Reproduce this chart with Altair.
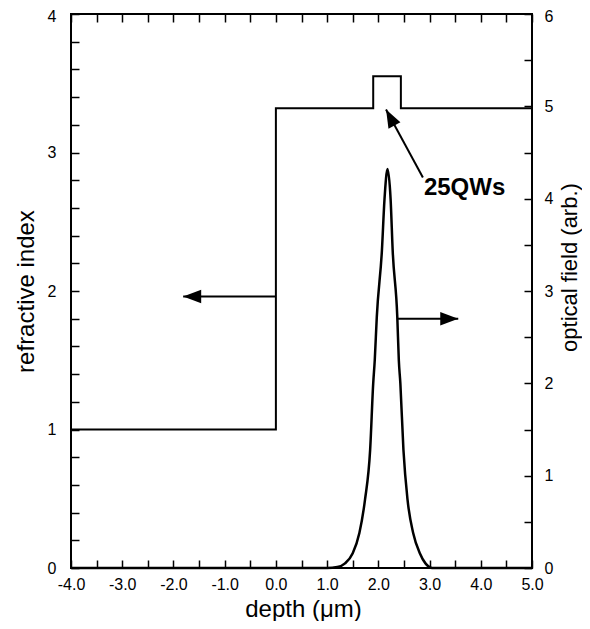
import altair as alt
import pandas as pd

# ---- data ----
ri_depth = [-4.0, 0.0, 1.90, 2.44, 5.0]
ri_value = [1.0, 3.32, 3.55, 3.32, 3.32]

field_depth = [-4.0, 1.0, 1.2, 1.35, 1.5, 1.63, 1.74, 1.84, 1.90, 1.93, 1.97, 2.07, 2.12,
               2.18, 2.24, 2.28, 2.37, 2.40, 2.43, 2.49, 2.57, 2.68, 2.81, 2.92, 3.05, 5.0]
field_value = [0, 0, 0.01, 0.05, 0.16, 0.38, 0.74, 1.28, 2.0, 2.25, 2.72, 3.44, 3.99,
               4.32, 3.99, 3.44, 2.72, 2.25, 2.0, 1.28, 0.74, 0.38, 0.16, 0.05, 0.0, 0]

x_labels = [-4.0, -3.0, -2.0, -1.0, 0.0, 1.0, 2.0, 3.0, 4.0, 5.0]
x_ticks = [-4.0, -3.5, -3.0, -2.5, -2.0, -1.5, -1.0, -0.5, 0.0, 0.5, 1.0, 1.5, 2.0,
           2.5, 3.0, 3.5, 4.0, 4.5, 5.0]
yl_labels = [0, 1, 2, 3, 4]
yl_ticks = [0.0, 0.2, 0.4, 0.6, 0.8, 1.0, 1.2, 1.4, 1.6, 1.8, 2.0, 2.2, 2.4, 2.6, 2.8,
            3.0, 3.2, 3.4, 3.6, 3.8, 4.0]
yr_labels = [0, 1, 2, 3, 4, 5, 6]
yr_ticks = [0.0, 0.5, 1.0, 1.5, 2.0, 2.5, 3.0, 3.5, 4.0, 4.5, 5.0, 5.5, 6.0]

arrow_id = ["left", "left", "right", "right", "qw", "qw"]
arrow_x = [0.0, -1.81, 2.37, 3.56, 2.87, 2.15]
arrow_y = [1.96, 1.96, 1.80, 1.80, 2.82, 3.31]
head_x = [-1.81, 3.56, 2.15]
head_y = [1.96, 1.80, 3.31]
head_angle = [0, 180, 62]

note_text = ["25QWs"]
note_x = [2.89]
note_y = [2.69]

# ---- tables ----
ri_df = pd.DataFrame({"depth": ri_depth, "n": ri_value})
field_df = pd.DataFrame({"depth": field_depth, "field": field_value})
arrow_df = pd.DataFrame({"id": arrow_id, "x": arrow_x, "y": arrow_y})
head_df = pd.DataFrame({"x": head_x, "y": head_y, "angle": head_angle})
note_df = pd.DataFrame({"t": note_text, "x": note_x, "y": note_y})

FONT = "Liberation Sans"


def xs():
    return alt.Scale(domain=[-4, 5], nice=False, zero=False)


def yls():
    return alt.Scale(domain=[0, 4], nice=False, zero=False)


def yrs():
    return alt.Scale(domain=[0, 6], nice=False, zero=False)


# refractive index (left axis, bottom axis labels)
ri = alt.Chart(ri_df).mark_line(interpolate="step-after", color="black", strokeWidth=2).encode(
    x=alt.X("depth:Q", scale=xs(), axis=alt.Axis(
        orient="bottom", values=x_labels, format=".1f",
        labelExpr="replace(datum.label, '\u2212', '-')",
        ticks=False, tickSize=0,
        domain=False, labelPadding=8, labelFlush=False, labelOverlap=False,
        title="depth (μm)", titleX=232, titleY=48, titleBaseline="alphabetic",
        titleAlign="center")),
    y=alt.Y("n:Q", scale=yls(), axis=alt.Axis(
        orient="left", values=yl_labels, format="d", ticks=False, tickSize=0,
        domain=False, labelPadding=15, labelFlush=False, labelOverlap=False,
        labelOffset={"condition": {"test": "datum.value == 4", "value": 2}, "value": 0},
        title="refractive index", titleX=-38, titleY=277, titleAngle=270,
        titleBaseline="alphabetic", titleAlign="center")),
)

# optical field (right axis)
field = alt.Chart(field_df).mark_line(interpolate="monotone", color="black", strokeWidth=2.5).encode(
    x=alt.X("depth:Q", scale=xs(), axis=None),
    y=alt.Y("field:Q", scale=yrs(), axis=alt.Axis(
        orient="right", values=yr_labels, format="d", ticks=False, tickSize=0,
        domain=False, labelPadding=12, labelFlush=False, labelOverlap=False,
        labelOffset={"condition": {"test": "datum.value == 6", "value": 2}, "value": 0},
        title="optical field (arb.)", titleX=44, titleY=253, titleAngle=270,
        titleFontSize=22, titleBaseline="alphabetic", titleAlign="center")),
)

# inward ticks: bottom + left
ticks_bl = alt.Chart(ri_df).mark_point(opacity=0).encode(
    x=alt.X("depth:Q", scale=xs(), axis=alt.Axis(
        orient="bottom", values=x_ticks, labels=False, domain=False, ticks=True,
        tickSize=8, offset=-8, tickWidth=1.5, tickColor="black", title=None)),
    y=alt.Y("n:Q", scale=yls(), axis=alt.Axis(
        orient="left", values=yl_ticks, labels=False, domain=False, ticks=True,
        tickSize=8, offset=-8, tickWidth=1.5, tickColor="black", title=None)),
)

# inward ticks: top + right
ticks_tr = alt.Chart(field_df).mark_point(opacity=0).encode(
    x=alt.X("depth:Q", scale=xs(), axis=alt.Axis(
        orient="top", values=x_ticks, labels=False, domain=False, ticks=True,
        tickSize=8, offset=-8, tickWidth=1.5, tickColor="black", title=None)),
    y=alt.Y("field:Q", scale=yrs(), axis=alt.Axis(
        orient="right", values=yr_ticks, labels=False, domain=False, ticks=True,
        tickSize=8, offset=-8, tickWidth=1.5, tickColor="black", title=None)),
)

arrows = alt.Chart(arrow_df).mark_line(color="black", strokeWidth=2).encode(
    x=alt.X("x:Q", scale=xs(), axis=None),
    y=alt.Y("y:Q", scale=yls(), axis=None),
    detail="id:N",
)

heads = alt.Chart(head_df).mark_point(
    shape="M0,0 L2,-0.75 L2,0.75 Z", filled=True, color="black", opacity=1,
    size=324, strokeWidth=0,
).encode(
    x=alt.X("x:Q", scale=xs(), axis=None),
    y=alt.Y("y:Q", scale=yls(), axis=None),
    angle=alt.Angle("angle:Q", scale=None),
)

note = alt.Chart(note_df).mark_text(
    align="left", baseline="alphabetic", font=FONT, fontSize=24, fontWeight="bold",
    color="black",
).encode(
    x=alt.X("x:Q", scale=xs(), axis=None),
    y=alt.Y("y:Q", scale=yls(), axis=None),
    text="t:N",
)

chart = alt.layer(ri, field, ticks_bl, ticks_tr, arrows, heads, note).resolve_scale(
    x="independent", y="independent"
).properties(
    width=461, height=554,
    autosize=alt.AutoSizeParams(type="none"),
    padding={"left": 63, "top": 6, "right": 50, "bottom": 53},
    background="white",
).configure_view(
    stroke="black", strokeWidth=2
).configure_axis(
    grid=False, labelFont=FONT, titleFont=FONT, labelFontSize=16, titleFontSize=24,
    titleFontWeight="normal", labelColor="black", titleColor="black",
)

chart.save("out.html", embed_options={"renderer": "svg", "actions": False})
